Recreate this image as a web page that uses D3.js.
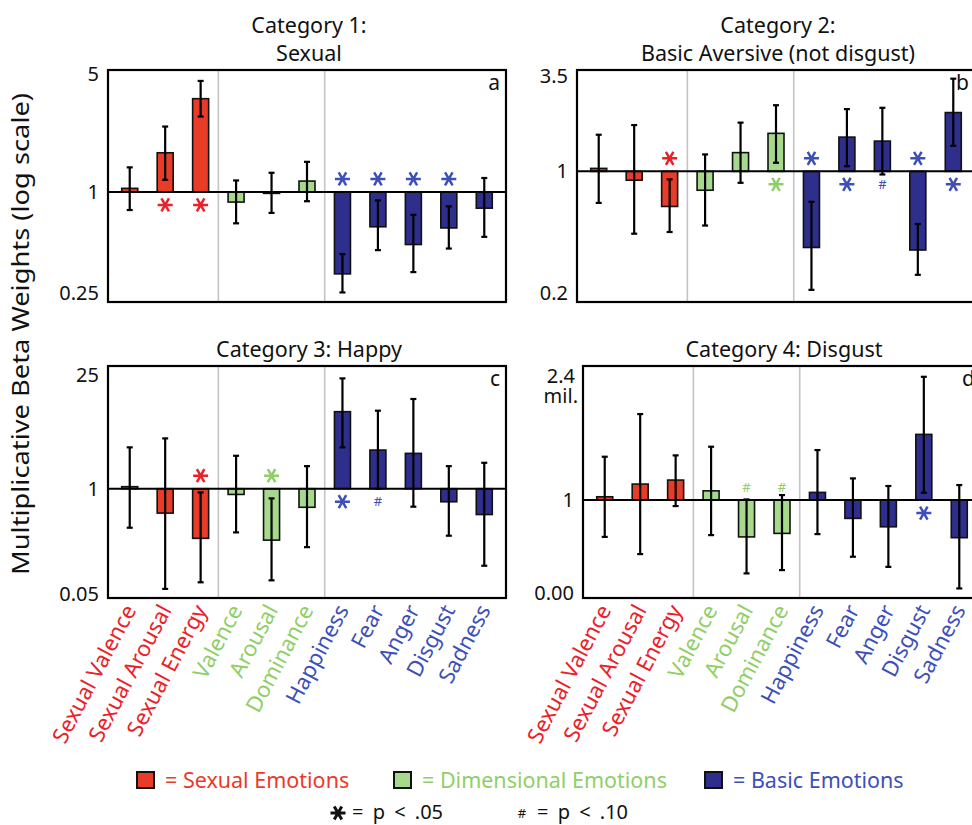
<!DOCTYPE html>
<html>
<head>
<meta charset="utf-8">
<script src="https://cdn.jsdelivr.net/npm/d3@7"></script>
<style>
body { margin: 0; background: #fff; }
text { font-family: "Noto Sans", sans-serif; }
</style>
</head>
<body>
<svg id="chart" width="972" height="825"></svg>
<script>

var categories = ["Sexual Valence", "Sexual Arousal", "Sexual Energy", "Valence", "Arousal",
    "Dominance", "Happiness", "Fear", "Anger", "Disgust", "Sadness"];
var catGroup = ["sexual", "sexual", "sexual", "dimensional", "dimensional", "dimensional",
    "basic", "basic", "basic", "basic", "basic"];

var groupNames = ["sexual", "dimensional", "basic"];
var legendLabels = ["= Sexual Emotions", "= Dimensional Emotions", "= Basic Emotions"];
var sigLabels = ["= p < .05", "= p < .10"];

var panelTitles = [["Category 1:", "Sexual"], ["Category 2:", "Basic Aversive (not disgust)"],
    ["Category 3: Happy"], ["Category 4: Disgust"]];
var panelLetters = ["a", "b", "c", "d"];

// y domain of each panel (log scale) and the tick labels
var yDomains = [[0.221, 5.32], [0.179, 3.8], [0.0448, 32.7], [6.2e-6, 1.35e7]];
var tickValues = [[0.25, 1, 5], [0.2, 1, 3.5], [0.05, 1, 25], [1.1e-5, 1, 2.4e6]];
var tickLabels = [["0.25", "1", "5"], ["0.2", "1", "3.5"], ["0.05", "1", "25"], ["0.00", "1", "2.4 mil."]];

// panel a: Sexual
var betaA = [1.05, 1.71, 3.59, 0.87, 0.98, 1.16, 0.325, 0.62, 0.486, 0.61, 0.80];
var lowA  = [0.78, 1.18, 2.81, 0.65, 0.75, 0.88, 0.252, 0.45, 0.333, 0.46, 0.54];
var highA = [1.40, 2.45, 4.58, 1.17, 1.30, 1.51, 0.426, 0.89, 0.73, 0.82, 1.21];
var sigA  = ["", "*", "*", "", "", "", "*", "*", "*", "*", ""];

// panel b: Basic Aversive
var betaB = [1.04, 0.89, 0.63, 0.78, 1.28, 1.65, 0.367, 1.57, 1.49, 0.355, 2.17];
var lowB  = [0.66, 0.44, 0.45, 0.49, 0.86, 1.12, 0.21, 1.07, 0.96, 0.256, 1.40];
var highB = [1.62, 1.84, 0.90, 1.25, 1.90, 2.39, 0.67, 2.27, 2.31, 0.50, 3.39];
var sigB  = ["", "", "*", "", "", "*", "*", "*", "#", "*", "*"];

// panel c: Happy
var betaC = [1.06, 0.50, 0.244, 0.85, 0.232, 0.59, 8.93, 3.0, 2.73, 0.69, 0.48];
var lowC  = [0.33, 0.058, 0.070, 0.289, 0.074, 0.19, 3.24, 1.0, 0.60, 0.263, 0.112];
var highC = [3.24, 4.18, 0.90, 2.55, 0.76, 1.90, 23.0, 9.18, 12.8, 1.90, 2.09];
var sigC  = ["", "", "*", "", "*", "", "*", "#", "", "", ""];

// panel d: Disgust
var betaD = [1.5, 7.1, 11.6, 3.1, 0.011, 0.0169, 2.56, 0.106, 0.038, 3110, 0.010];
var lowD  = [0.011, 0.00134, 0.48, 0.0137, 1.26e-4, 1.89e-4, 0.0155, 9.7e-4, 2.8e-4, 2.45, 2.0e-5];
var highD = [202, 37500, 238, 687, 1.08, 1.85, 457, 14.2, 5.6, 3.6e6, 6.3];
var sigD  = ["", "", "", "", "#", "#", "", "", "", "*", ""];

var panels = [
    {beta: betaA, low: lowA, high: highA, sig: sigA},
    {beta: betaB, low: lowB, high: highB, sig: sigB},
    {beta: betaC, low: lowC, high: highC, sig: sigC},
    {beta: betaD, low: lowD, high: highD, sig: sigD}
];

var barColor = {sexual: "#e83c28", dimensional: "#a6d98c", basic: "#2e2e8c"};
var textColor = {sexual: "#ec2028", dimensional: "#8fcf68", basic: "#3c50b8"};
var legendColor = {sexual: "#ea3a2a", dimensional: "#8fcf68", basic: "#3c50b8"};

// frame of each panel
var frames = [
    {x: 108, y: 70, w: 398, h: 232},
    {x: 577, y: 70, w: 398, h: 232},
    {x: 108, y: 366, w: 398, h: 232},
    {x: 583, y: 366, w: 398, h: 232}
];

var svg = d3.select("#chart");

function asterisk(g, cx, cy, r, color, width) {
    var s = r * 0.866, h = r / 2;
    g.append("path")
        .attr("d", "M" + (cx - r) + "," + cy + "L" + (cx + r) + "," + cy +
            "M" + (cx - h) + "," + (cy - s) + "L" + (cx + h) + "," + (cy + s) +
            "M" + (cx + h) + "," + (cy - s) + "L" + (cx - h) + "," + (cy + s))
        .attr("stroke", color)
        .attr("stroke-width", width)
        .attr("fill", "none");
}

function drawPanel(p, i) {
    var f = frames[i];
    var g = svg.append("g").attr("class", "panel");

    var x = d3.scaleBand().domain(categories).range([f.x + 4, f.x + f.w - 4]);
    var y = d3.scaleLog().domain(yDomains[i]).range([f.y + f.h, f.y]);
    var bw = 16;
    var cx = function (c) { return x(c) + x.bandwidth() / 2; };

    // group dividers
    [3, 6].forEach(function (k) {
        g.append("line")
            .attr("x1", x(categories[k])).attr("x2", x(categories[k]))
            .attr("y1", f.y).attr("y2", f.y + f.h)
            .attr("stroke", "#c4c4c4").attr("stroke-width", 1.6);
    });

    // bars
    g.selectAll("rect.bar")
        .data(categories)
        .enter().append("rect")
        .attr("class", "bar")
        .attr("x", function (c) { return cx(c) - bw / 2; })
        .attr("width", bw)
        .attr("y", function (c, j) { return y(Math.max(p.beta[j], 1)); })
        .attr("height", function (c, j) { return Math.abs(y(p.beta[j]) - y(1)); })
        .attr("fill", function (c, j) { return barColor[catGroup[j]]; })
        .attr("stroke", "#111")
        .attr("stroke-width", 1.6);

    // baseline at 1
    g.append("line")
        .attr("x1", f.x).attr("x2", f.x + f.w)
        .attr("y1", y(1)).attr("y2", y(1))
        .attr("stroke", "#000").attr("stroke-width", 2);

    // error bars
    var err = g.selectAll("g.err")
        .data(categories)
        .enter().append("g")
        .attr("class", "err");
    err.append("line")
        .attr("x1", cx).attr("x2", cx)
        .attr("y1", function (c, j) { return y(p.high[j]); })
        .attr("y2", function (c, j) { return y(p.low[j]); })
        .attr("stroke", "#000").attr("stroke-width", 2.2);
    ["high", "low"].forEach(function (key) {
        err.append("line")
            .attr("x1", function (c) { return cx(c) - 3; })
            .attr("x2", function (c) { return cx(c) + 3; })
            .attr("y1", function (c, j) { return y(p[key][j]); })
            .attr("y2", function (c, j) { return y(p[key][j]); })
            .attr("stroke", "#000").attr("stroke-width", 2.2);
    });

    // frame
    g.append("rect")
        .attr("x", f.x).attr("y", f.y).attr("width", f.w).attr("height", f.h)
        .attr("fill", "none").attr("stroke", "#000").attr("stroke-width", 2.2);

    // significance marks, on the side opposite the bar
    categories.forEach(function (c, j) {
        var mark = p.sig[j];
        if (!mark) return;
        var up = p.beta[j] >= 1;
        var my = up ? y(1) + 13 : y(1) - 13;
        var col = textColor[catGroup[j]];
        if (mark === "*") {
            asterisk(g, cx(c), my, 7.5, col, 2.5);
        } else {
            g.append("text")
                .attr("x", cx(c)).attr("y", my)
                .attr("dy", "0.35em")
                .attr("text-anchor", "middle")
                .attr("font-size", 13)
                .attr("fill", col)
                .text(mark);
        }
    });

    // y axis tick labels
    var axis = d3.axisLeft(y)
        .tickValues(tickValues[i])
        .tickFormat(function (d, j) { return tickLabels[i][j]; })
        .tickSize(0)
        .tickPadding(9);
    var ax = g.append("g")
        .attr("transform", "translate(" + f.x + ",0)")
        .call(axis);
    ax.select(".domain").remove();
    ax.selectAll("text")
        .attr("font-size", 20)
        .attr("font-family", "Noto Sans, sans-serif")
        .attr("fill", "#111")
        .each(function (d, j) {
            var parts = tickLabels[i][j].split(" ");
            if (parts.length > 1) {
                var t = d3.select(this).text(null).attr("dy", null);
                t.append("tspan").attr("x", -8).attr("dy", "0.1em").text(parts[0]);
                t.append("tspan").attr("x", -5).attr("dy", "1.0em").text(parts[1]);
            }
        });

    // panel letter
    g.append("text")
        .attr("x", f.x + f.w - 6).attr("y", f.y + 20)
        .attr("text-anchor", "end")
        .attr("font-size", 21)
        .attr("fill", "#111")
        .text(panelLetters[i]);

    // title
    var lines = panelTitles[i];
    lines.forEach(function (line, k) {
        g.append("text")
            .attr("x", f.x + f.w / 2 + 2)
            .attr("y", f.y - 9 - (lines.length - 1 - k) * 28)
            .attr("text-anchor", "middle")
            .attr("font-size", 21.5)
            .attr("fill", "#111")
            .text(line);
    });

    // category labels below the bottom row
    if (i >= 2) {
        g.selectAll("text.cat")
            .data(categories)
            .enter().append("text")
            .attr("class", "cat")
            .attr("transform", function (c) {
                return "translate(" + (cx(c) + 7) + "," + (f.y + f.h + 12) + ") rotate(-62)";
            })
            .attr("text-anchor", "end")
            .attr("font-size", 22)
            .attr("fill", function (c, j) { return textColor[catGroup[j]]; })
            .text(function (c) { return c; });
    }
}

panels.forEach(drawPanel);

// y axis title
svg.append("text")
    .attr("transform", "translate(29,334) rotate(-90)")
    .attr("text-anchor", "middle")
    .attr("font-size", 23)
    .attr("textLength", 482)
    .attr("lengthAdjust", "spacingAndGlyphs")
    .attr("fill", "#111")
    .text("Multiplicative Beta Weights (log scale)");

// legend
var legendX = [137, 394, 705];
groupNames.forEach(function (gname, k) {
    svg.append("rect")
        .attr("x", legendX[k]).attr("y", 772).attr("width", 17).attr("height", 16)
        .attr("fill", barColor[gname]).attr("stroke", "#111").attr("stroke-width", 2);
    svg.append("text")
        .attr("x", legendX[k] + 28).attr("y", 788)
        .attr("font-size", 21.5)
        .attr("fill", legendColor[gname])
        .text(legendLabels[k]);
});

asterisk(svg, 338, 813, 7.5, "#111", 3);
svg.append("text")
    .attr("x", 352).attr("y", 819)
    .attr("font-size", 20).attr("fill", "#111")
    .attr("word-spacing", 4)
    .text(sigLabels[0]);
svg.append("text")
    .attr("x", 522).attr("y", 818)
    .attr("text-anchor", "middle")
    .attr("font-size", 13).attr("fill", "#111")
    .text("#");
svg.append("text")
    .attr("x", 537).attr("y", 819)
    .attr("font-size", 20).attr("fill", "#111")
    .attr("word-spacing", 4)
    .text(sigLabels[1]);

</script>
</body>
</html>
